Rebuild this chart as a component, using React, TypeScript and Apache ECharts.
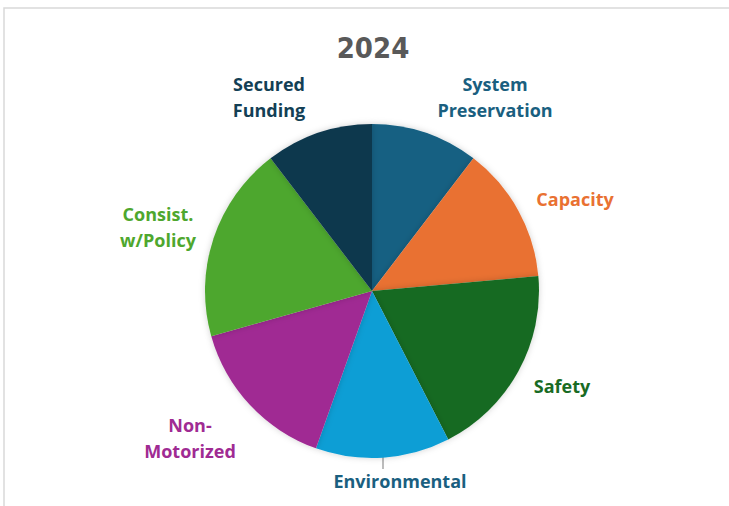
import React, { useEffect, useRef } from "react";
import * as echarts from "echarts";

const TITLE = "2024";
const categories = [
  "System\nPreservation",
  "Capacity",
  "Safety",
  "Environmental",
  "Non-\nMotorized",
  "Consist.\nw/Policy",
  "Secured\nFunding",
];
const values = [10.4, 13.2, 18.9, 13.0, 15.2, 19.0, 10.4];

const sliceColors = ["#156082", "#E97132", "#196B24", "#0F9ED5", "#A02B93", "#4EA72E", "#0E374D"];
const labelColors = ["#1A5F80", "#E97132", "#196B24", "#1A5F80", "#A02B93", "#4EA72E", "#133F55"];
// label centres (layout only)
const labelPos = [
  [495, 97],
  [575, 199],
  [562, 386],
  [400, 481],
  [190, 438],
  [158, 227],
  [269, 97],
];

export default function App() {
  const ref = useRef<HTMLDivElement>(null);
  useEffect(() => {
    document.body.style.margin = "0";
    const chart = echarts.init(ref.current!, null, { renderer: "svg" });
    chart.setOption({
      animation: false,
      backgroundColor: "#ffffff",
      title: {
        text: TITLE,
        left: 368,
        top: 28,
        textAlign: "center",
        textStyle: {
          fontFamily: "DejaVu Sans Condensed",
          fontWeight: "bold",
          fontSize: 29,
          color: "#595959",
        },
      },
      graphic: [
        {
          type: "rect",
          shape: { x: 4, y: 8, width: 900, height: 700 },
          style: { fill: "none", stroke: "#d9d9d9", lineWidth: 1.5 },
          silent: true,
          z: -1,
        },
      ],
      series: [
        {
          type: "pie",
          center: [372, 291],
          radius: 167,
          startAngle: 90,
          clockwise: true,
          data: categories.map((name, i) => ({
            name,
            value: values[i],
            itemStyle: { color: sliceColors[i] },
            label: { color: labelColors[i] },
            labelLine: { show: i === 3 },
          })),
          itemStyle: {
            borderWidth: 0,
            shadowBlur: 6,
            shadowColor: "rgba(0,0,0,0.18)",
          },
          label: {
            show: true,
            position: "outside",
            formatter: "{b}",
            fontFamily: "Open Sans",
            fontWeight: "bold",
            fontSize: 18,
            lineHeight: 26,
            align: "center",
          },
          labelLine: {
            show: false,
            lineStyle: { color: "#a6a6a6", width: 1.5 },
          },
          labelLayout: (params: any) => {
            const p = labelPos[params.dataIndex];
            const out: any = {
              x: p[0],
              y: p[1],
              align: "center",
              verticalAlign: "middle",
            };
            if (params.dataIndex === 3) {
              out.labelLinePoints = [
                [383, 457],
                [383, 468],
                [383, 469],
              ];
            }
            return out;
          },
          emphasis: { disabled: true },
        },
      ],
    });
    return () => chart.dispose();
  }, []);
  return <div ref={ref} style={{ width: 729, height: 506 }} />;
}
